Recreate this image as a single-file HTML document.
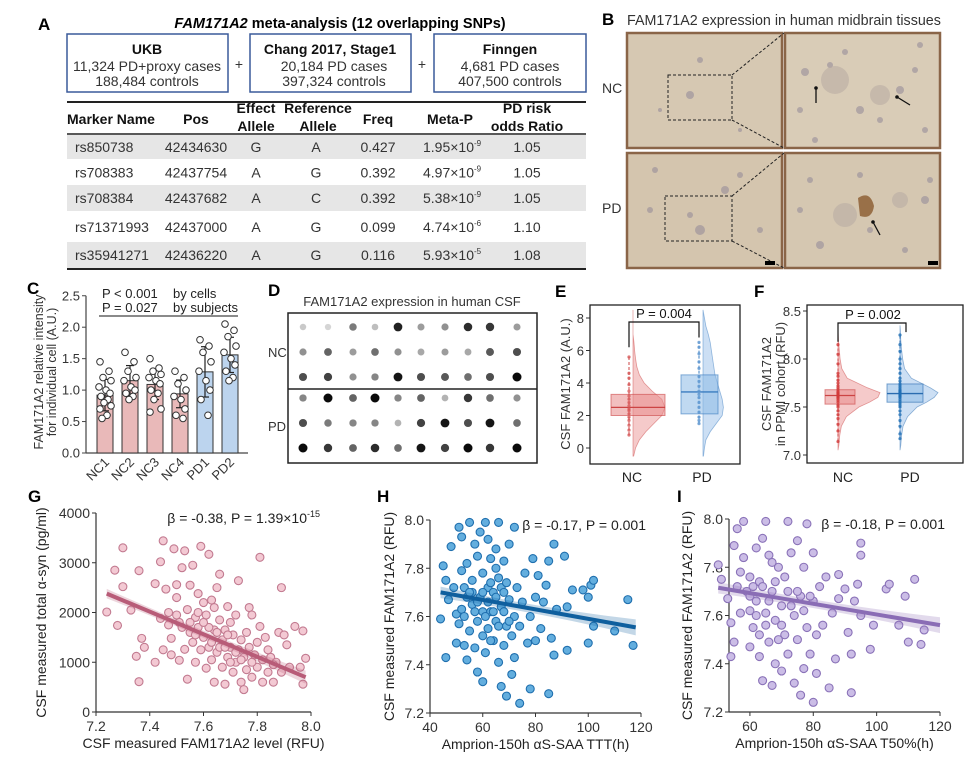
<!DOCTYPE html>
<html><head><meta charset="utf-8">
<style>
html,body{margin:0;padding:0;background:#fff;}
svg{display:block;font-family:"Liberation Sans",Arial,sans-serif;}
.pl{font-weight:bold;font-size:17px;}
.tk{font-size:13px;fill:#333;}
.tb{font-size:14px;fill:#333;}
.th{font-size:14px;font-weight:bold;fill:#111;}
</style></head>
<body>
<svg id="fig" width="967" height="759" viewBox="0 0 967 759">
<!-- Panel A -->
<g>
<text class="pl" x="38" y="30">A</text>
<text x="340" y="28" text-anchor="middle" style="font-size:14.5px;font-weight:bold"><tspan font-style="italic">FAM171A2</tspan> meta-analysis (12 overlapping SNPs)</text>
<g>
<rect x="67" y="34" width="161" height="58" fill="none" stroke="#3a5a9a" stroke-width="1.5"/>
<text x="147" y="54" text-anchor="middle" class="th">UKB</text>
<text x="147" y="71" text-anchor="middle" class="tb">11,324 PD+proxy cases</text>
<text x="147" y="86" text-anchor="middle" class="tb">188,484 controls</text></g>
<text x="239" y="69" text-anchor="middle" class="tb">+</text>
<g>
<rect x="250" y="34" width="161" height="58" fill="none" stroke="#3a5a9a" stroke-width="1.5"/>
<text x="330" y="54" text-anchor="middle" class="th">Chang 2017, Stage1</text>
<text x="334" y="71" text-anchor="middle" class="tb">20,184 PD cases</text>
<text x="334" y="86" text-anchor="middle" class="tb">397,324 controls</text></g>
<text x="422" y="69" text-anchor="middle" class="tb">+</text>
<g>
<rect x="434" y="34" width="152" height="58" fill="none" stroke="#3a5a9a" stroke-width="1.5"/>
<text x="510" y="54" text-anchor="middle" class="th">Finngen</text>
<text x="510" y="71" text-anchor="middle" class="tb">4,681 PD cases</text>
<text x="510" y="86" text-anchor="middle" class="tb">407,500 controls</text></g>
<g id="snptable"></g>
</g>
<!-- Panel B -->
<g id="panelB">
<text class="pl" x="602" y="25">B</text>
<text x="627" y="25" style="font-size:14.3px" fill="#333">FAM171A2 expression in human midbrain tissues</text>
<text x="602" y="93" style="font-size:14px" fill="#333">NC</text>
<text x="602" y="213" style="font-size:14px" fill="#333">PD</text>
</g>
<!-- Panel C -->
<g id="panelC">
<text class="pl" x="27" y="294">C</text>
<text x="102" y="298" style="font-size:13px" fill="#222">P &lt; 0.001</text>
<text x="173" y="298" style="font-size:13px" fill="#222">by cells</text>
<text x="102" y="312" style="font-size:13px" fill="#222">P = 0.027</text>
<text x="173" y="312" style="font-size:13px" fill="#222">by subjects</text>
<line x1="99" y1="316" x2="238" y2="316" stroke="#444" stroke-width="1.2"/>
<text transform="translate(43,372) rotate(-90)" text-anchor="middle" style="font-size:12.5px" fill="#333">FAM171A2 relative intensity</text>
<text transform="translate(56,372) rotate(-90)" text-anchor="middle" style="font-size:12.5px" fill="#333">for individual cell (A.U.)</text>
</g>
<!-- Panel D -->
<g id="panelD">
<text class="pl" x="268" y="296">D</text>
<text x="412" y="306" text-anchor="middle" style="font-size:13px" fill="#333">FAM171A2 expression in human CSF</text>
<text x="268" y="357" style="font-size:13px" fill="#333">NC</text>
<text x="268" y="431" style="font-size:13px" fill="#333">PD</text>
<rect x="288" y="313" width="249" height="150" fill="#fff" stroke="#222" stroke-width="1.5"/>
<line x1="288" y1="389" x2="537" y2="389" stroke="#222" stroke-width="1.5"/>
</g>
<g id="panelE">
<text class="pl" x="555" y="297">E</text>
<text transform="translate(570,384) rotate(-90)" text-anchor="middle" style="font-size:13px" fill="#333">CSF FAM171A2 (A.U.)</text>
</g>
<g id="panelF">
<text class="pl" x="754" y="297">F</text>
<text transform="translate(771,384) rotate(-90)" text-anchor="middle" style="font-size:13px" fill="#333">CSF FAM171A2</text>
<text transform="translate(785,384) rotate(-90)" text-anchor="middle" style="font-size:13px" fill="#333">in PPMI cohort (RFU)</text>
</g>
<g id="panelG">
<text class="pl" x="28" y="502">G</text>
</g>
<g id="panelH">
<text class="pl" x="377" y="502">H</text>
</g>
<g id="panelI">
<text class="pl" x="677" y="502">I</text>
</g>
</svg>
<script>
// ===== DATA =====
const snpMarkers=["rs850738","rs708383","rs708384","rs71371993","rs35941271"];
const snpPos=["42434630","42437754","42437682","42437000","42436220"];
const snpEffect=["G","A","A","A","A"];
const snpRef=["A","G","C","G","G"];
const snpFreq=["0.427","0.392","0.392","0.099","0.116"];
const snpPMant=["1.95","4.97","5.38","4.74","5.93"];
const snpPExp=["-9","-9","-9","-6","-5"];
const snpOR=["1.05","1.05","1.05","1.10","1.08"];

const cCats=["NC1","NC2","NC3","NC4","PD1","PD2"];
const cMeans=[0.92,1.15,1.09,0.94,1.29,1.56];
const cSD=[0.25,0.24,0.24,0.22,0.4,0.28];
const cTicks=[0,0.5,1.0,1.5,2.0,2.5];
const cPts=[[1.45,1.3,1.2,1.15,1.05,1.0,0.95,0.9,0.85,0.8,0.75,0.7,0.6,0.55],
[1.6,1.45,1.3,1.2,1.15,1.05,1.0,0.95,0.9,0.85],
[1.5,1.35,1.3,1.25,1.2,1.15,1.1,1.0,0.95,0.85,0.7,0.65],
[1.3,1.2,1.1,1.0,0.9,0.85,0.7,0.6,0.55],
[1.8,1.7,1.6,1.45,1.3,1.15,1.0,0.85,0.6],
[2.05,1.95,1.85,1.7,1.6,1.5,1.4,1.3,1.2,1.15]];

const dotIntensity=[[.15,.1,.5,.2,.9,.35,.4,.85,.8,.35],
[.4,.6,.35,.55,.4,.3,.35,.3,.65,.7],
[.7,.75,.4,.45,.95,.7,.65,.55,.7,1],
[.45,1,.6,1,.45,.6,.25,.8,.55,.4],
[.7,.5,.45,.45,.25,.75,.95,.7,.95,.55],
[1,.8,.6,.85,.55,.95,.75,1,.8,1]];

const eTicks=[0,2,4,6,8];
const eGrid=[-0.5,0,0.5,1,1.5,2,2.5,3,3.5,4,4.5,5,5.5,6,6.5,7,7.5,8,8.5];
const eNCDens=[0.02,0.08,0.2,0.4,0.65,0.9,1.0,0.9,0.6,0.35,0.2,0.12,0.08,0.05,0.03,0,0,0,0];
const ePDDens=[0.02,0.06,0.12,0.3,0.55,0.8,0.85,0.8,0.7,0.6,0.5,0.45,0.4,0.35,0.3,0.22,0.12,0.06,0];
const eNCBox=[2.0,2.5,3.3,0.8,5.6];
const ePDBox=[2.1,3.45,4.5,1.5,6.5];
const eNCPts=[0.8,1.1,1.4,1.7,1.9,2.1,2.3,2.4,2.6,2.8,3.0,3.2,3.5,3.9,4.3,4.6,5.6];
const ePDPts=[1.5,1.7,1.9,2.2,2.5,2.8,3.1,3.3,3.5,3.8,4.1,4.4,4.9,5.3,5.8,6.2,6.5];

const fTicks=[7.0,7.5,8.0,8.5];
const fGrid=[7.05,7.1,7.2,7.3,7.4,7.5,7.55,7.6,7.65,7.7,7.8,7.9,8.0,8.1,8.2,8.3,8.35];
const fNCDens=[0,0.02,0.04,0.08,0.2,0.5,0.75,0.95,1.0,0.7,0.22,0.09,0.05,0.03,0.01,0,0];
const fPDDens=[0,0.02,0.04,0.08,0.2,0.45,0.7,0.9,1.0,0.8,0.3,0.12,0.07,0.04,0.02,0.01,0];
const fNCBox=[7.53,7.62,7.68,7.14,8.15];
const fPDBox=[7.55,7.64,7.74,7.17,8.25];
const fNCPts=[7.14,7.25,7.32,7.38,7.42,7.46,7.5,7.52,7.55,7.57,7.59,7.6,7.61,7.62,7.63,7.64,7.65,7.66,7.68,7.7,7.72,7.75,7.78,7.82,7.85,7.95,8.05,8.15];
const fPDPts=[7.17,7.22,7.3,7.36,7.42,7.46,7.5,7.52,7.54,7.56,7.58,7.6,7.61,7.62,7.63,7.64,7.65,7.66,7.67,7.68,7.7,7.72,7.74,7.77,7.8,7.85,7.9,7.95,8.0,8.08,8.15,8.25];

const gX=[7.24,7.27,7.28,7.30,7.30,7.33,7.35,7.36,7.36,7.37,7.38,7.42,7.42,7.44,7.45,7.44,7.45,7.46,7.47,7.48,7.48,7.49,7.50,7.50,7.51,7.51,7.52,7.53,7.53,7.54,7.54,7.55,7.55,7.56,7.56,7.57,7.57,7.58,7.58,7.59,7.59,7.60,7.60,7.61,7.61,7.62,7.62,7.63,7.63,7.64,7.64,7.65,7.65,7.66,7.66,7.67,7.67,7.68,7.68,7.69,7.69,7.70,7.70,7.71,7.71,7.72,7.72,7.73,7.73,7.74,7.74,7.75,7.75,7.76,7.76,7.77,7.77,7.78,7.78,7.79,7.80,7.80,7.81,7.81,7.82,7.82,7.83,7.84,7.85,7.86,7.87,7.88,7.89,7.89,7.90,7.91,7.92,7.94,7.96,7.97,7.97,7.98,7.55,7.58,7.62,7.65,7.60,7.63,7.66,7.70,7.72,7.68,7.57,7.52,7.50,7.47,7.64,7.74,7.78,7.84,7.86,7.69];
const gY=[2010,2850,1740,3300,2520,2050,1120,610,2840,1480,1300,1000,2580,3020,3440,1880,1250,2470,2000,1480,1150,3280,2560,2300,1040,1800,2900,3240,1260,2060,660,2550,1600,2950,1400,1900,1000,2380,1700,3330,1250,2200,1500,880,1950,3170,1300,2250,1050,1650,600,2500,1200,2770,1850,900,1450,1650,560,2120,1100,1800,1300,800,1550,1000,1950,2640,1250,600,1450,450,1100,1600,850,2100,1300,700,1950,1150,1400,900,3110,1720,1050,600,1500,800,1100,600,1000,1600,2500,800,1550,1350,900,1720,900,1630,560,1080,1800,2000,1700,1600,1800,1400,1300,1000,1200,1300,1550,1700,1950,1750,2100,1050,1000,1250,950,1550];
const gXTicks=[7.2,7.4,7.6,7.8,8.0];
const gYTicks=[0,1000,2000,3000,4000];
const gFit=[[7.24,2380],[7.98,700]];

const hX=[44,45,46,46,47,48,49,50,50,51,51,52,52,52,53,53,54,54,54,55,55,56,56,57,57,58,58,58,59,59,60,60,60,61,61,62,62,62,63,63,64,64,65,65,66,66,66,67,67,68,68,69,69,70,70,71,71,72,72,72,73,74,74,75,76,77,78,78,79,80,80,81,82,83,84,85,85,86,87,87,88,91,92,92,94,98,100,100,101,102,102,110,115,117,56,58,60,61,62,63,64,65,66,67,68,69,70,63,60,57,55,53,65,68];
const hY=[7.59,7.81,7.43,7.75,7.67,7.89,7.72,7.61,7.49,7.97,7.57,7.93,7.63,7.79,7.72,7.48,7.42,7.68,7.82,7.99,7.54,7.65,7.75,7.90,7.47,7.58,7.85,7.37,7.68,7.95,7.33,7.62,7.78,7.45,7.99,7.72,7.55,7.92,7.62,7.84,7.50,7.70,7.88,7.58,7.99,7.41,7.76,7.31,7.64,7.48,7.83,7.56,7.27,7.90,7.67,7.36,7.52,7.97,7.60,7.43,7.72,7.24,7.56,7.66,7.78,7.49,7.30,7.60,7.84,7.68,7.50,7.77,7.55,7.66,7.73,7.28,7.83,7.51,7.90,7.44,7.63,7.85,7.46,7.64,7.71,7.71,7.68,7.49,7.73,7.56,7.75,7.54,7.67,7.48,7.70,7.66,7.70,7.60,7.66,7.74,7.62,7.68,7.56,7.72,7.62,7.74,7.58,7.50,7.52,7.62,7.70,7.60,7.80,7.70];
const hXTicks=[40,60,80,100,120];
const hYTicks=[7.2,7.4,7.6,7.8,8.0];
const hFit=[[44,7.70],[118,7.555]];

const iX=[50,51,53,54,54,55,55,56,56,57,57,58,58,59,60,60,60,61,62,62,63,63,63,64,64,65,65,66,66,67,67,68,68,69,70,70,71,72,72,72,73,74,74,75,75,76,76,77,77,78,78,79,80,80,80,81,81,82,83,84,85,86,87,88,88,90,91,92,92,93,94,95,95,95,98,99,103,104,107,109,110,112,114,115,60,62,64,66,68,70,71,73,75,77,79,65,69,61,67];
const iY=[7.81,7.75,7.67,7.43,7.57,7.49,7.89,7.72,7.96,7.61,7.78,7.99,7.84,7.70,7.47,7.62,7.76,7.55,7.66,7.88,7.52,7.43,7.74,7.33,7.92,7.99,7.61,7.85,7.49,7.31,7.70,7.40,7.58,7.80,7.37,7.64,7.52,7.99,7.70,7.44,7.86,7.32,7.60,7.91,7.50,7.27,7.68,7.38,7.80,7.98,7.55,7.44,7.24,7.86,7.66,7.36,7.52,7.72,7.56,7.76,7.30,7.61,7.42,7.77,7.67,7.71,7.53,7.28,7.44,7.66,7.73,7.60,7.90,7.85,7.46,7.56,7.71,7.73,7.56,7.68,7.49,7.75,7.48,7.54,7.68,7.60,7.72,7.66,7.74,7.56,7.76,7.64,7.70,7.62,7.68,7.56,7.50,7.72,7.82];
const iXTicks=[60,80,100,120];
const iYTicks=[7.2,7.4,7.6,7.8,8.0];
const iFit=[[50,7.715],[120,7.56]];

// ===== HELPERS =====
const NS="http://www.w3.org/2000/svg";
function mk(parent,tag,attrs,txt){const e=document.createElementNS(NS,tag);for(const k in attrs)e.setAttribute(k,attrs[k]);if(txt!==undefined)e.textContent=txt;parent.appendChild(e);return e;}
const $=id=>document.getElementById(id);

// ===== TABLE =====
(function(){
const g=$('snptable');
let e;
e=mk(g,'line',{x1:67,y1:102,x2:586,y2:102,stroke:'#222','stroke-width':2});


const hdr=[["Marker Name",67,'start',124],["Pos",196,'middle',124],["Effect",256,'middle',113],["Allele",256,'middle',131],["Reference",318,'middle',113],["Allele",318,'middle',131],["Freq",378,'middle',124],["Meta-P",450,'middle',124],["PD risk",527,'middle',113],["odds Ratio",527,'middle',131]];
hdr.forEach(h=>{e=mk(g,'text',{x:h[1],y:h[3],'text-anchor':h[2],class:'th'},h[0]);

});
e=mk(g,'line',{x1:67,y1:134,x2:586,y2:134,stroke:'#222','stroke-width':1.5});


const rowTop=[135,160,185,212,242];
const rowH=[24,25,26,30,26];
snpMarkers.forEach((m,i)=>{
 if(i%2===0){e=mk(g,'rect',{x:67,y:rowTop[i],width:519,height:rowH[i],fill:'#e6e6e6'});
 
 }
 const cy=rowTop[i]+rowH[i]/2+5;
 const cells=[[m,75,'start'],[snpPos[i],196,'middle'],[snpEffect[i],256,'middle'],[snpRef[i],316,'middle'],[snpFreq[i],378,'middle']];
 cells.forEach(c=>{e=mk(g,'text',{x:c[1],y:cy,'text-anchor':c[2],class:'tb'},c[0]);
 
 });
 e=mk(g,'text',{x:423,y:cy,class:'tb'});
 
 
 mk(e,'tspan',{},snpPMant[i]+"\u00d710");
 mk(e,'tspan',{dy:-6,style:'font-size:8px'},snpPExp[i]);
 e=mk(g,'text',{x:527,y:cy,'text-anchor':'middle',class:'tb'},snpOR[i]);
 
 
});
e=mk(g,'line',{x1:67,y1:269,x2:586,y2:269,stroke:'#222','stroke-width':2});


})();

// ===== PANEL B =====
(function(){
const g=$('panelB');
const imgs=[[627,33,155,115,'#d6c8b2'],[785,33,155,115,'#d9ccb7'],[627,153,155,115,'#d4c5ae'],[785,153,155,115,'#d5c7b1']];
const names=['nc-overview-image','nc-zoom-image','pd-overview-image','pd-zoom-image'];
imgs.forEach((r,i)=>{const e=mk(g,'rect',{x:r[0],y:r[1],width:r[2],height:r[3],fill:r[4],stroke:'#8a6548','stroke-width':2.5});

});
const spots=[[805,72,4],[830,65,3],[845,52,3],[900,90,4],[915,70,3],[860,110,4],[880,120,3],[925,130,3],[800,110,3],[815,140,3],[880,95,10],[835,80,14],[920,45,3],
[810,180,3],[860,175,3],[900,200,8],[925,200,4],[845,215,12],[870,230,3],[820,245,4],[905,250,3],[800,210,3],[930,180,3],
[655,170,3],[700,230,5],[725,190,4],[690,215,3],[650,210,3],[740,175,3],[760,230,3],[700,60,3],[660,110,2],[740,130,2],[690,95,4]];
spots.forEach(s=>{const e=mk(g,'circle',{cx:s[0],cy:s[1],r:s[2],fill:s[2]>6?'#b7aaa2':'#8f8798',opacity:0.55});

});
let e=mk(g,'path',{d:'M858 198 q12 -8 16 8 q-2 14 -14 10 z',fill:'#8a5a2e',opacity:0.8});


const arrows=[[816,103,816,88],[910,105,897,97],[880,235,873,222]];
arrows.forEach(a=>{e=mk(g,'line',{x1:a[0],y1:a[1],x2:a[2],y2:a[3],stroke:'#111','stroke-width':1.3});


e=mk(g,'circle',{cx:a[2],cy:a[3],r:1.8,fill:'#111'});

});
const boxes=[[668,75,64,45,33,148],[665,196,67,45,153,268]];
boxes.forEach((b,i)=>{e=mk(g,'rect',{x:b[0],y:b[1],width:b[2],height:b[3],fill:'none',stroke:'#222','stroke-dasharray':'3,2'});


e=mk(g,'line',{x1:b[0]+b[2],y1:b[1],x2:784,y2:b[4],stroke:'#222','stroke-dasharray':'3,2'});


e=mk(g,'line',{x1:b[0]+b[2],y1:b[1]+b[3],x2:784,y2:b[5],stroke:'#222','stroke-dasharray':'3,2'});

});
[[765,261],[928,261]].forEach(s=>{e=mk(g,'rect',{x:s[0],y:s[1],width:10,height:4,fill:'#000'});

});
})();

// ===== PANEL C =====
(function(){
const g=$('panelC');
const y=v=>453-v*62.9;
const x0=105,step=25,bw=16;
let e=mk(g,'line',{x1:86,y1:y(0),x2:248,y2:y(0),stroke:'#444','stroke-width':1.2});


e=mk(g,'line',{x1:86,y1:y(0),x2:86,y2:y(2.5),stroke:'#444','stroke-width':1.2});


cTicks.forEach(t=>{e=mk(g,'line',{x1:82,y1:y(t),x2:86,y2:y(t),stroke:'#444'});


e=mk(g,'text',{x:80,y:y(t)+4.5,'text-anchor':'end',class:'tk'},t.toFixed(1));

});
cCats.forEach((c,i)=>{const cx=x0+i*step;const pd=c.startsWith('PD');
e=mk(g,'rect',{x:cx-bw/2,y:y(cMeans[i]),width:bw,height:y(0)-y(cMeans[i]),fill:pd?'#bcd4ee':'#e9b9b9',stroke:'#333','stroke-width':1});


e=mk(g,'line',{x1:cx,y1:y(cMeans[i]-cSD[i]),x2:cx,y2:y(cMeans[i]+cSD[i]),stroke:'#222','stroke-width':1.2});


[cMeans[i]-cSD[i],cMeans[i]+cSD[i]].forEach(v=>{e=mk(g,'line',{x1:cx-4,y1:y(v),x2:cx+4,y2:y(v),stroke:'#222','stroke-width':1.2});

});
cPts[i].forEach((v,j)=>{const off=[-5,4,-2,6,-6,1,5,-4,3,-1,6,-5,2,-3][j%14];
e=mk(g,'circle',{cx:cx+off,cy:y(v),r:3.3,fill:'#fff',stroke:'#333','stroke-width':1});

});
e=mk(g,'text',{transform:`translate(${cx+5},${y(0)+10}) rotate(-45)`,'text-anchor':'end',class:'tk',style:'font-size:13px'},c);


});
})();

// ===== PANEL D =====
(function(){
const g=$('panelD');
const colX=[303,328,353,375,398,421,445,468,490,517];
const rowY=[327,352,377,398,423,448];
dotIntensity.forEach((row,r)=>row.forEach((v,c)=>{const k=Math.round(235-v*225);
const e=mk(g,'circle',{cx:colX[c],cy:rowY[r],r:3+v*1.5,fill:`rgb(${k},${k},${k})`});

}));
})();

// ===== VIOLIN/BOX helper =====
function raincloud(g,yf,cat,grid,dens,maxW,box,boxL,boxR,stripX,pts,fillC,strokeC,ptC,name){
 let d='M'+cat+' '+yf(grid[0]);
 grid.forEach((v,i)=>{d+=' L'+(cat+dens[i]*maxW)+' '+yf(v);});
 d+=' L'+cat+' '+yf(grid[grid.length-1])+' Z';
 let e=mk(g,'path',{d:d,fill:fillC,'fill-opacity':0.45,stroke:strokeC,'stroke-opacity':0.5,'stroke-width':0.8});
 
 
 e=mk(g,'line',{x1:stripX,y1:yf(box[3]),x2:stripX,y2:yf(box[4]),stroke:strokeC,'stroke-width':1,'stroke-dasharray':'3,2'});
 
 
 e=mk(g,'rect',{x:boxL,y:yf(box[2]),width:boxR-boxL,height:yf(box[0])-yf(box[2]),fill:fillC,'fill-opacity':0.55,stroke:strokeC,'stroke-opacity':0.6});
 
 
 e=mk(g,'line',{x1:boxL,y1:yf(box[1]),x2:boxR,y2:yf(box[1]),stroke:strokeC,'stroke-width':1.3});
 
 
 pts.forEach(v=>{e=mk(g,'circle',{cx:stripX,cy:yf(v),r:1.6,fill:ptC,opacity:0.8});
 
 });
}
function frame(g,x1,y1,x2,y2,name){const e=mk(g,'rect',{x:x1,y:y1,width:x2-x1,height:y2-y1,fill:'none',stroke:'#222','stroke-width':1.3});

}

// ===== PANEL E =====
(function(){
const g=$('panelE');
const yf=v=>448-v*16.25;
eTicks.forEach(t=>{let e=mk(g,'line',{x1:586,y1:yf(t),x2:590,y2:yf(t),stroke:'#333'});


e=mk(g,'text',{x:584,y:yf(t)+5,'text-anchor':'end',class:'tk'},t);

});
raincloud(g,yf,633,eGrid,eNCDens,32,eNCBox,611,665,629,eNCPts,'#e88a8a','#c44','#d65555','e-nc');
raincloud(g,yf,703,eGrid,ePDDens,24,ePDBox,681,718,699,ePDPts,'#8db9e6','#3a7cc0','#5b95d0','e-pd');
frame(g,590,305,740,464,'e-plot-frame');
let e=mk(g,'path',{d:`M629 ${yf(6.2)} V322 H699 V${yf(6.8)}`,fill:'none',stroke:'#111','stroke-width':1.2});


e=mk(g,'text',{x:664,y:318,'text-anchor':'middle',style:'font-size:13px',fill:'#111'},'P = 0.004');


[['NC',632],['PD',702]].forEach(c=>{e=mk(g,'text',{x:c[1],y:482,'text-anchor':'middle',style:'font-size:14px',fill:'#222'},c[0]);

});
})();

// ===== PANEL F =====
(function(){
const g=$('panelF');
const yf=v=>455-(v-7)*96;
fTicks.forEach(t=>{let e=mk(g,'line',{x1:803,y1:yf(t),x2:807,y2:yf(t),stroke:'#333'});


e=mk(g,'text',{x:801,y:yf(t)+5,'text-anchor':'end',class:'tk'},t.toFixed(1));

});
raincloud(g,yf,838,fGrid,fNCDens,42,fNCBox,825,855,838,fNCPts,'#e88a8a','#c44','#d23a3a','f-nc');
raincloud(g,yf,900,fGrid,fPDDens,38,fPDBox,887,923,900,fPDPts,'#8db9e6','#2a6cb0','#1f6fb5','f-pd');
frame(g,807,305,963,463,'f-plot-frame');
let e=mk(g,'path',{d:`M838 ${yf(8.18)} V323 H906 V${yf(8.28)}`,fill:'none',stroke:'#111','stroke-width':1.2});


e=mk(g,'text',{x:873,y:319,'text-anchor':'middle',style:'font-size:13px',fill:'#111'},'P = 0.002');


[['NC',843],['PD',910]].forEach(c=>{e=mk(g,'text',{x:c[1],y:482,'text-anchor':'middle',style:'font-size:14px',fill:'#222'},c[0]);

});
})();

// ===== SCATTER helper =====
function scatter(g,opt){
 const xf=v=>opt.x0+(v-opt.xmin)/(opt.xmax-opt.xmin)*(opt.x1-opt.x0);
 const yf=v=>opt.y0-(v-opt.ymin)/(opt.ymax-opt.ymin)*(opt.y0-opt.y1);
 let e=mk(g,'line',{x1:opt.x0,y1:opt.y0,x2:opt.x1,y2:opt.y0,stroke:'#333','stroke-width':1.2});
 
 
 e=mk(g,'line',{x1:opt.x0,y1:opt.y0,x2:opt.x0,y2:opt.y1,stroke:'#333','stroke-width':1.2});
 
 
 opt.xt.forEach(t=>{e=mk(g,'line',{x1:xf(t),y1:opt.y0,x2:xf(t),y2:opt.y0+4,stroke:'#333'});
 
 
 e=mk(g,'text',{x:xf(t),y:opt.y0+19,'text-anchor':'middle',class:'tk',style:'font-size:14px'},opt.xfmt(t));
 
 });
 opt.yt.forEach(t=>{e=mk(g,'line',{x1:opt.x0-4,y1:yf(t),x2:opt.x0,y2:yf(t),stroke:'#333'});
 
 
 e=mk(g,'text',{x:opt.x0-6,y:yf(t)+5,'text-anchor':'end',class:'tk',style:'font-size:14px'},opt.yfmt(t));
 
 });
 opt.xs.forEach((v,i)=>{e=mk(g,'circle',{cx:xf(v),cy:yf(opt.ys[i]),r:4,fill:opt.fill,stroke:opt.stroke,'stroke-width':1.1});
 
 });
 const a=opt.fit[0],b=opt.fit[1];
 const bw=opt.band;
 const mid=(a[0]+b[0])/2;
 const band=`M${xf(a[0])} ${yf(a[1]+bw*1.6)} Q${xf(mid)} ${yf((a[1]+b[1])/2+bw*0.5)} ${xf(b[0])} ${yf(b[1]+bw*2.2)} L${xf(b[0])} ${yf(b[1]-bw*2.2)} Q${xf(mid)} ${yf((a[1]+b[1])/2-bw*0.5)} ${xf(a[0])} ${yf(a[1]-bw*1.6)} Z`;
 e=mk(g,'path',{d:band,fill:opt.line,'fill-opacity':0.25});
 
 
 e=mk(g,'line',{x1:xf(a[0]),y1:yf(a[1]),x2:xf(b[0]),y2:yf(b[1]),stroke:opt.line,'stroke-width':4});
 
 
 e=mk(g,'text',{x:opt.annX,y:opt.y1+10,'text-anchor':'end',style:'font-size:14px',fill:'#222'});
 
 
 mk(e,'tspan',{},opt.ann);
 if(opt.annSup)mk(e,'tspan',{dy:-6,style:'font-size:9px'},opt.annSup);
 e=mk(g,'text',{x:(opt.x0+opt.x1)/2,y:opt.y0+36,'text-anchor':'middle',style:'font-size:14px',fill:'#222'},opt.xtitle);
 
 
 e=mk(g,'text',{transform:`translate(${opt.ytx},${(opt.y0+opt.y1)/2}) rotate(-90)`,'text-anchor':'middle',style:'font-size:14px',fill:'#222'},opt.ytitle);
 
 
}
scatter($('panelG'),{n:'g',x0:96,x1:311,y0:712,y1:513,xmin:7.2,xmax:8.0,ymin:0,ymax:4000,xt:gXTicks,yt:gYTicks,xfmt:t=>t.toFixed(1),yfmt:t=>t,
 xs:gX,ys:gY,fill:'#f3c9d3',stroke:'#c27a90',line:'#b85c78',fit:gFit,band:60,annX:320,ann:'\u03b2 = -0.38, P = 1.39\u00d710',annSup:'-15',
 xtitle:'CSF measured FAM171A2 level (RFU)',ytitle:'CSF measured total \u03b1-syn (pg/ml)',ytx:46});
scatter($('panelH'),{n:'h',x0:430,x1:641,y0:713,y1:520,xmin:40,xmax:120,ymin:7.2,ymax:8.0,xt:hXTicks,yt:hYTicks,xfmt:t=>t,yfmt:t=>t.toFixed(1),
 xs:hX,ys:hY,fill:'#63aede',stroke:'#1f6fae',line:'#0f5f9e',fit:hFit,band:0.015,annX:646,ann:'\u03b2 = -0.17, P = 0.001',
 xtitle:'Amprion-150h \u03b1S-SAA TTT(h)',ytitle:'CSF measured FAM171A2 (RFU)',ytx:394});
scatter($('panelI'),{n:'i',x0:729,x1:940,y0:712,y1:519,xmin:53.4,xmax:120,ymin:7.2,ymax:8.0,xt:iXTicks,yt:iYTicks,xfmt:t=>t,yfmt:t=>t.toFixed(1),
 xs:iX,ys:iY,fill:'#cbbde6',stroke:'#8a72b8',line:'#8a6db5',fit:iFit,band:0.015,annX:945,ann:'\u03b2 = -0.18, P = 0.001',
 xtitle:'Amprion-150h \u03b1S-SAA T50%(h)',ytitle:'CSF measured FAM171A2 (RFU)',ytx:692});
</script>
</body></html>
